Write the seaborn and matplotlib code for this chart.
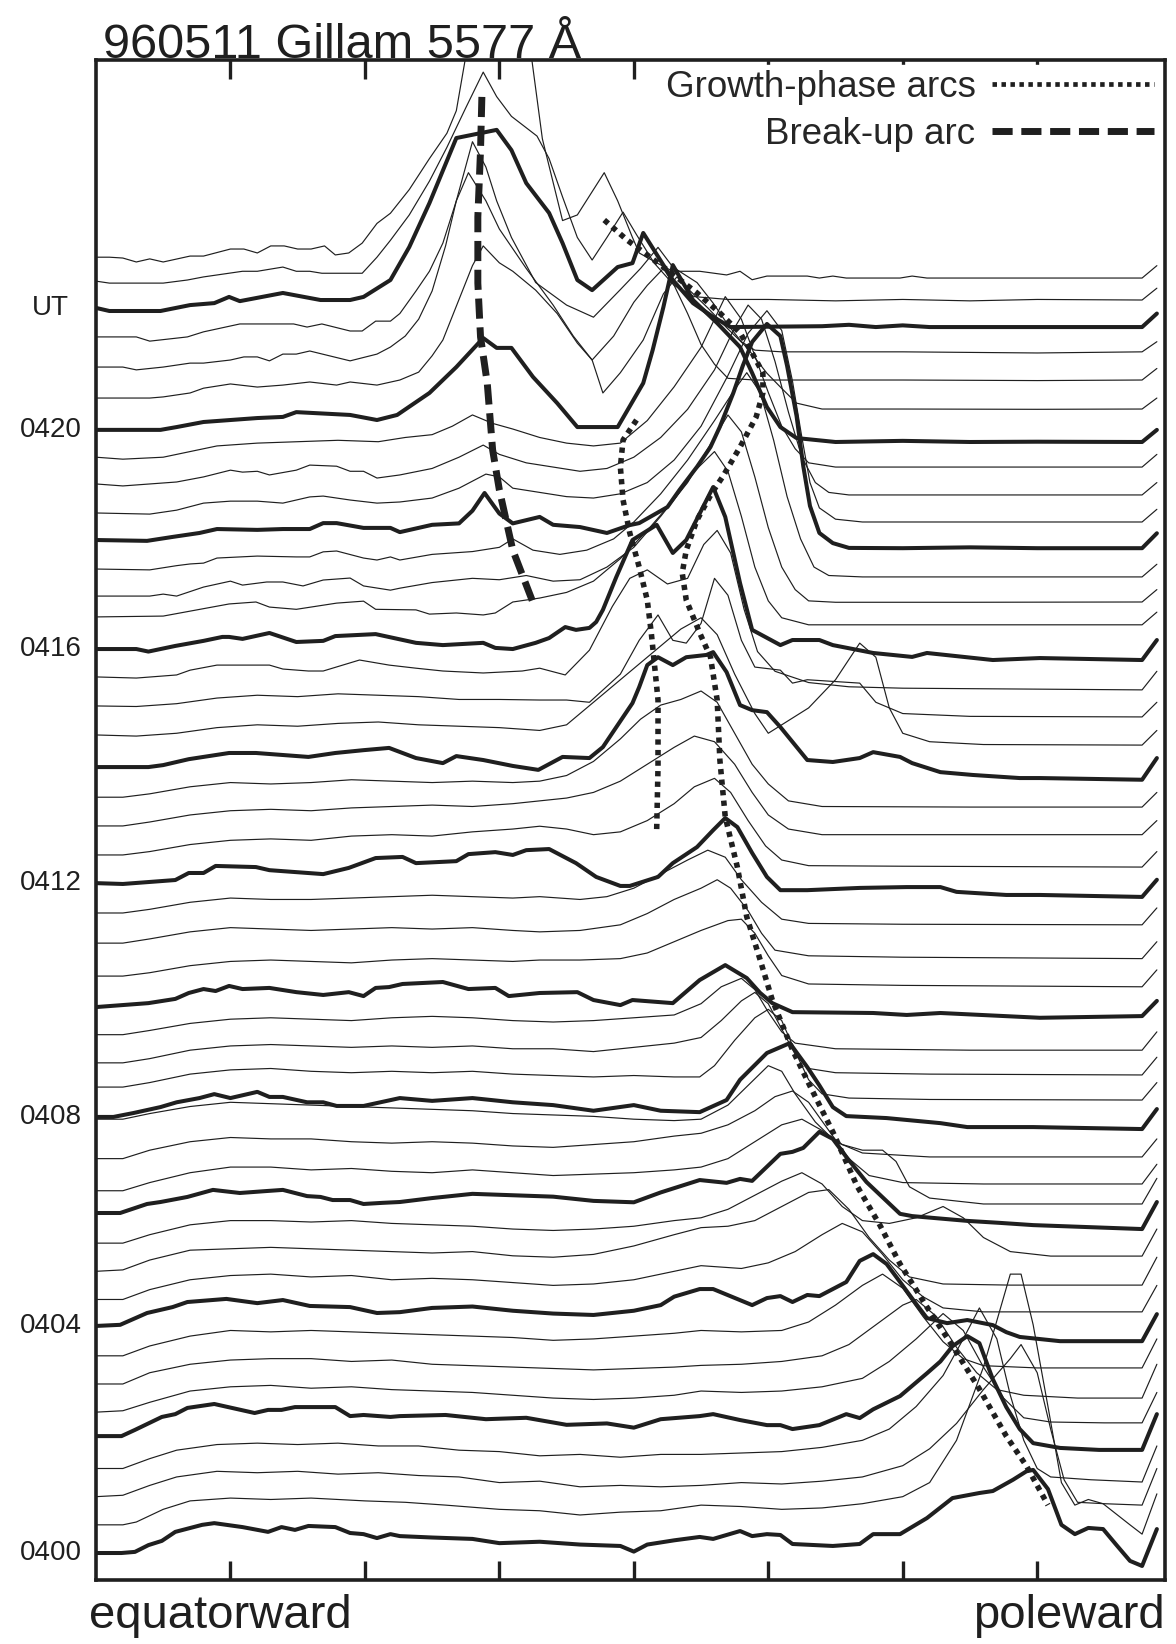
import numpy as np
import pandas as pd
import matplotlib
matplotlib.use("Agg")
import matplotlib.pyplot as plt
import matplotlib.transforms as mtransforms
import seaborn as sns
from matplotlib.lines import Line2D

# ---------------- data: each trace = list of (position, intensity) knots ----------------
# position: 0..8 (equatorward -> poleward), intensity in units of the trace offset
t00 = [(0,0),(0.19,0),(0.29,0.04),(0.39,0.28),(0.49,0.43),(0.59,0.75),(0.79,1.0),(0.88,1.06),(1.09,0.92),(1.28,0.75),(1.38,0.92),(1.48,0.82),(1.58,0.96),(1.78,0.92),(1.89,0.71),(1.99,0.67),(2.09,0.53),(2.19,0.67),(2.26,0.6),(2.5,0.55),(2.8,0.5),(3.0,0.35),(3.3,0.4),(3.6,0.3),(3.9,0.25),(4.0,0.05),(4.1,0.3),(4.3,0.45),(4.49,0.57),(4.59,0.5),(4.79,0.78),(4.88,0.6),(4.99,0.67),(5.09,0.64),(5.18,0.32),(5.48,0.25),(5.68,0.32),(5.78,0.67),(5.98,0.67),(6.18,1.24),(6.37,1.95),(6.57,2.13),(6.67,2.2),(6.82,2.6),(6.92,2.9),(6.97,2.95),(7.08,2.27),(7.18,1.0),(7.28,0.67),(7.38,0.89),(7.49,0.85),(7.59,0.28),(7.69,-0.28),(7.78,-0.46),(7.89,0.85)]
t01 = [(0,0),(0.2,0),(0.3,0.1),(0.5,0.55),(0.7,0.85),(1.0,0.95),(1.3,0.9),(1.6,0.95),(2.0,0.85),(2.3,0.8),(2.6,0.7),(3.0,0.55),(3.3,0.5),(3.6,0.35),(3.9,0.45),(4.2,0.5),(4.5,0.7),(4.8,0.65),(5.1,0.55),(5.4,0.6),(5.7,0.75),(6.0,1.0),(6.2,1.5),(6.4,3.0),(6.6,5.6),(6.8,8.9),(6.88,8.9),(6.97,7.1),(7.08,4.2),(7.18,1.5),(7.28,0.7),(7.38,0.9),(7.49,0.75),(7.69,0.0),(7.78,-0.33),(7.89,1.1)]
t02 = [(0,0),(0.2,0.05),(0.4,0.4),(0.6,0.7),(0.9,0.9),(1.2,0.85),(1.5,0.9),(1.8,0.8),(2.1,0.85),(2.4,0.75),(2.7,0.7),(3.0,0.5),(3.3,0.55),(3.6,0.35),(3.9,0.4),(4.2,0.35),(4.5,0.4),(4.8,0.5),(5.1,0.45),(5.4,0.55),(5.7,0.7),(6.0,1.1),(6.2,1.7),(6.4,2.6),(6.6,3.8),(6.8,4.9),(6.88,5.4),(7.0,4.4),(7.1,2.4),(7.2,0.6),(7.3,-0.2),(7.5,-0.25),(7.78,-0.3),(7.89,1.0)]
t03 = [(0,0),(0.2,0),(0.4,0.35),(0.6,0.65),(0.9,0.85),(1.2,0.9),(1.5,0.85),(1.8,0.9),(2.1,0.8),(2.4,0.8),(2.7,0.65),(3.0,0.6),(3.3,0.45),(3.6,0.5),(3.9,0.4),(4.2,0.5),(4.5,0.5),(4.8,0.55),(5.1,0.6),(5.4,0.75),(5.7,1.0),(5.9,1.4),(6.1,2.2),(6.3,3.3),(6.45,4.6),(6.57,5.7),(6.7,4.6),(6.8,2.6),(6.9,1.0),(7.0,0.0),(7.1,-0.3),(7.4,-0.4),(7.78,-0.48),(7.89,0.8)]
t04 = [(0,0.15),(0.19,0.15),(0.29,0.37),(0.49,0.83),(0.59,0.93),(0.68,1.15),(0.88,1.29),(1.18,0.97),(1.28,1.08),(1.38,1.08),(1.48,1.18),(1.78,1.18),(1.89,0.86),(1.99,0.9),(2.19,0.83),(2.26,0.86),(2.6,0.9),(2.9,0.75),(3.2,0.8),(3.5,0.55),(3.8,0.6),(4.0,0.45),(4.2,0.75),(4.49,0.86),(4.59,0.93),(4.79,0.72),(4.99,0.54),(5.09,0.54),(5.18,0.4),(5.38,0.54),(5.58,0.93),(5.68,0.79),(5.78,1.1),(5.98,1.57),(6.18,2.38),(6.28,2.8),(6.37,3.34),(6.48,3.7),(6.57,3.45),(6.67,2.17),(6.77,1.18),(6.87,0.4),(6.97,-0.1),(7.17,-0.27),(7.46,-0.34),(7.78,-0.34),(7.89,0.93)]
t05 = [(0,0),(0.2,0.05),(0.4,0.35),(0.7,0.75),(1.0,0.9),(1.3,0.95),(1.6,0.85),(1.9,0.9),(2.2,0.8),(2.5,0.75),(2.8,0.7),(3.1,0.6),(3.4,0.5),(3.7,0.45),(4.0,0.5),(4.3,0.6),(4.5,0.75),(4.8,0.7),(5.1,0.75),(5.4,0.9),(5.7,1.2),(5.9,1.8),(6.1,2.6),(6.3,3.5),(6.45,2.9),(6.6,1.6),(6.75,0.5),(6.9,-0.2),(7.1,-0.35),(7.5,-0.38),(7.78,-0.38),(7.89,0.7)]
t06 = [(0,0),(0.2,0),(0.4,0.4),(0.7,0.7),(1.0,0.85),(1.3,0.9),(1.6,0.9),(1.9,0.8),(2.2,0.85),(2.5,0.7),(2.8,0.65),(3.1,0.6),(3.4,0.55),(3.7,0.5),(4.0,0.55),(4.3,0.6),(4.5,0.66),(4.8,0.7),(5.1,0.8),(5.4,1.0),(5.6,1.4),(5.8,2.1),(6.0,2.8),(6.1,3.0),(6.25,2.4),(6.4,1.3),(6.55,0.4),(6.7,-0.2),(6.9,-0.4),(7.3,-0.5),(7.78,-0.5),(7.89,0.7)]
t07 = [(0,0),(0.2,0),(0.4,0.35),(0.7,0.7),(1.0,0.9),(1.3,0.85),(1.6,0.9),(1.9,0.85),(2.2,0.8),(2.5,0.75),(2.8,0.7),(3.1,0.65),(3.4,0.55),(3.7,0.6),(4.0,0.7),(4.3,0.8),(4.5,0.9),(4.8,0.85),(5.1,0.9),(5.3,1.2),(5.5,1.8),(5.7,2.5),(5.85,2.9),(6.0,2.4),(6.15,1.4),(6.3,0.5),(6.45,-0.1),(6.6,-0.35),(7.0,-0.43),(7.78,-0.43),(7.89,0.6)]
t08 = [(0,0.06),(0.18,0.1),(0.38,0.52),(0.57,0.73),(0.68,0.91),(0.97,1.02),(1.2,0.87),(1.39,0.98),(1.59,0.77),(1.89,0.73),(2.09,0.52),(2.26,0.55),(2.5,0.7),(2.8,0.75),(3.1,0.6),(3.4,0.5),(3.7,0.45),(4.0,0.6),(4.2,0.8),(4.3,1.1),(4.49,1.37),(4.59,1.37),(4.88,0.8),(4.99,1.05),(5.09,1.12),(5.18,0.91),(5.29,1.16),(5.38,1.12),(5.58,1.62),(5.68,2.37),(5.78,2.61),(5.88,2.26),(5.98,1.62),(6.1,0.84),(6.18,0.34),(6.33,0.16),(6.48,0.27),(6.67,0.09),(6.77,-0.16),(6.87,-0.33),(7.17,-0.48),(7.78,-0.48),(7.89,0.48)]
t09 = [(0,0),(0.2,0),(0.4,0.35),(0.7,0.7),(1.0,0.85),(1.3,0.9),(1.6,0.8),(1.9,0.85),(2.2,0.7),(2.5,0.75),(2.8,0.7),(3.1,0.6),(3.4,0.5),(3.7,0.55),(4.0,0.7),(4.3,1.0),(4.5,1.2),(4.8,1.1),(5.0,1.3),(5.2,1.7),(5.4,2.3),(5.55,2.7),(5.7,2.4),(5.85,1.6),(6.0,0.7),(6.15,0.1),(6.3,-0.3),(6.6,-0.44),(7.78,-0.44),(7.89,0.5)]
t10 = [(0,0),(0.2,0.05),(0.4,0.4),(0.7,0.75),(1.0,0.8),(1.3,0.85),(1.6,0.8),(1.9,0.75),(2.2,0.7),(2.5,0.65),(2.8,0.7),(3.1,0.55),(3.4,0.5),(3.7,0.6),(4.0,0.9),(4.3,1.3),(4.5,1.55),(4.7,1.6),(4.9,1.8),(5.1,2.3),(5.3,2.8),(5.45,2.9),(5.6,2.2),(5.75,1.2),(5.9,0.4),(6.05,-0.2),(6.3,-0.45),(6.8,-0.49),(7.78,-0.49),(7.89,0.5)]
t11 = [(0,0),(0.2,0),(0.4,0.3),(0.7,0.65),(1.0,0.8),(1.3,0.8),(1.6,0.75),(1.9,0.8),(2.2,0.7),(2.5,0.65),(2.8,0.6),(3.1,0.5),(3.4,0.45),(3.7,0.5),(4.0,0.6),(4.3,0.8),(4.5,0.9),(4.7,1.2),(4.9,1.7),(5.1,2.2),(5.25,2.5),(5.4,2.1),(5.55,1.3),(5.7,0.8),(5.9,0.7),(6.1,0.9),(6.3,1.3),(6.45,0.9),(6.6,0.2),(6.8,-0.3),(7.1,-0.46),(7.78,-0.46),(7.89,0.5)]
t12 = [(0,0.07),(0.18,0.07),(0.38,0.39),(0.48,0.46),(0.68,0.64),(0.87,0.89),(1.07,0.78),(1.27,0.85),(1.39,0.89),(1.57,0.67),(1.67,0.64),(1.76,0.53),(1.89,0.53),(1.99,0.39),(2.13,0.43),(2.26,0.46),(2.5,0.6),(2.8,0.75),(3.1,0.7),(3.4,0.65),(3.7,0.5),(4.0,0.45),(4.2,0.8),(4.49,1.24),(4.69,1.14),(4.79,1.28),(4.88,1.21),(5.09,2.17),(5.18,2.24),(5.26,2.38),(5.38,2.95),(5.48,2.7),(5.58,2.06),(5.73,1.17),(5.98,0.04),(6.07,-0.04),(6.48,-0.21),(6.72,-0.28),(6.97,-0.36),(7.78,-0.5),(7.89,0.46)]
t13 = [(0,-0.14),(0.2,-0.14),(0.4,0.15),(0.7,0.5),(1.0,0.7),(1.3,0.7),(1.6,0.6),(1.9,0.65),(2.2,0.55),(2.5,0.5),(2.8,0.6),(3.1,0.5),(3.4,0.4),(3.7,0.45),(4.0,0.5),(4.3,0.6),(4.5,0.7),(4.7,1.0),(4.9,1.6),(5.1,2.2),(5.25,2.4),(5.4,2.0),(5.55,1.5),(5.7,1.3),(5.85,1.3),(5.95,0.9),(6.05,0.0),(6.2,-0.4),(6.6,-0.61),(7.78,-0.61),(7.89,0.3)]
t14 = [(0,0),(0.2,0),(0.4,0.3),(0.7,0.6),(1.0,0.75),(1.3,0.7),(1.6,0.7),(1.9,0.6),(2.2,0.55),(2.5,0.6),(2.8,0.55),(3.1,0.45),(3.4,0.4),(3.7,0.5),(4.0,0.6),(4.3,0.8),(4.5,0.9),(4.7,1.2),(4.9,1.7),(5.05,2.2),(5.18,2.4),(5.3,2.0),(5.45,1.0),(5.6,0.0),(5.75,-0.6),(6.0,-0.85),(6.6,-0.9),(7.78,-0.9),(7.89,-0.2)]
t15 = [(0,0.4),(0.2,0.4),(0.4,0.6),(0.7,0.85),(1.0,1.0),(1.3,0.95),(1.6,0.9),(1.9,0.85),(2.2,0.8),(2.5,0.75),(2.8,0.7),(3.1,0.6),(3.4,0.55),(3.7,0.5),(4.0,0.4),(4.3,0.35),(4.5,0.4),(4.7,0.9),(4.85,1.6),(5.0,2.3),(5.1,2.1),(5.2,1.3),(5.35,0.3),(5.5,-0.4),(5.7,-0.8),(6.2,-0.94),(7.78,-0.94),(7.89,-0.3)]
t16 = [(0,-0.52),(0.13,-0.52),(0.28,-0.38),(0.48,-0.17),(0.6,0.0),(0.77,0.15),(0.88,0.29),(1.0,0.15),(1.2,0.37),(1.29,0.19),(1.39,0.19),(1.57,0.0),(1.69,0.0),(1.79,-0.13),(1.99,-0.13),(2.26,0.15),(2.5,0.05),(2.8,0.15),(3.1,0.0),(3.4,-0.1),(3.7,-0.3),(4.0,-0.1),(4.2,-0.3),(4.49,-0.35),(4.69,0.08),(4.79,0.8),(4.99,1.75),(5.16,2.1),(5.29,1.25),(5.38,0.6),(5.48,-0.17),(5.58,-0.49),(5.88,-0.56),(6.28,-0.74),(6.48,-0.88),(6.97,-0.88),(7.78,-0.95),(7.89,-0.24)]
t17 = [(0,-0.46),(0.2,-0.46),(0.4,-0.3),(0.7,0.0),(1.0,0.15),(1.3,0.2),(1.6,0.1),(1.9,0.05),(2.2,0.1),(2.5,0.05),(2.8,0.1),(3.1,0.0),(3.4,-0.05),(3.7,-0.1),(4.0,-0.05),(4.3,-0.1),(4.49,-0.1),(4.6,0.3),(4.75,1.2),(4.9,2.0),(5.0,2.3),(5.1,1.9),(5.2,0.8),(5.3,-0.2),(5.4,-0.7),(5.6,-0.85),(6.2,-0.9),(7.78,-0.92),(7.89,-0.3)]
t18 = [(0,-0.6),(0.2,-0.6),(0.4,-0.45),(0.7,-0.15),(1.0,0.0),(1.3,0.05),(1.6,0.0),(1.9,-0.05),(2.2,0.0),(2.5,-0.05),(2.8,0.0),(3.1,-0.1),(3.4,-0.1),(3.7,-0.2),(4.0,-0.05),(4.3,0.1),(4.5,0.3),(4.65,0.9),(4.8,1.6),(4.9,1.9),(5.0,1.5),(5.1,0.6),(5.2,-0.3),(5.3,-0.8),(5.5,-0.95),(6.2,-1.0),(7.78,-1.03),(7.89,-0.4)]
t19 = [(0,-0.6),(0.2,-0.6),(0.4,-0.45),(0.7,-0.2),(1.0,-0.05),(1.3,0.0),(1.6,-0.05),(1.9,-0.1),(2.2,0.0),(2.5,0.05),(2.8,0.0),(3.1,-0.1),(3.4,-0.15),(3.7,-0.1),(4.0,0.0),(4.3,0.1),(4.5,0.5),(4.65,1.1),(4.8,1.4),(4.9,1.0),(5.0,0.2),(5.1,-0.5),(5.2,-0.9),(5.5,-1.1),(6.5,-1.15),(7.78,-1.15),(7.89,-0.5)]
t20 = [(0,-0.62),(0.39,-0.48),(0.59,-0.33),(0.69,-0.12),(0.8,0.02),(0.89,-0.05),(0.99,0.13),(1.09,0.02),(1.29,0.06),(1.49,-0.09),(1.69,-0.19),(1.88,-0.09),(1.99,-0.23),(2.08,0.06),(2.18,0.09),(2.28,0.2),(2.58,0.27),(2.77,0.02),(2.97,0.06),(3.07,-0.23),(3.3,-0.12),(3.58,-0.09),(3.7,-0.37),(3.9,-0.55),(3.99,-0.37),(4.29,-0.48),(4.49,0.34),(4.68,0.87),(4.84,0.41),(4.94,-0.12),(5.03,-0.48),(5.18,-0.8),(5.78,-0.83),(6.03,-0.9),(6.28,-0.83),(7.02,-1.0),(7.78,-0.94),(7.89,-0.4)]
t21 = [(0,-0.52),(0.2,-0.52),(0.4,-0.4),(0.7,-0.15),(1.0,0.0),(1.3,0.05),(1.6,0.0),(1.9,-0.05),(2.2,0.05),(2.5,0.1),(2.8,0.05),(3.1,0.0),(3.3,0.05),(3.6,0.05),(3.9,0.1),(4.1,0.3),(4.3,0.7),(4.5,1.1),(4.7,1.45),(4.8,1.5),(4.9,1.0),(5.0,0.2),(5.1,-0.5),(5.3,-0.8),(6.0,-0.85),(7.78,-0.9),(7.89,-0.3)]
t22 = [(0,-0.35),(0.2,-0.35),(0.4,-0.2),(0.7,0.05),(1.0,0.2),(1.3,0.15),(1.6,0.1),(1.9,0.15),(2.2,0.2),(2.5,0.15),(2.8,0.2),(3.1,0.1),(3.3,0.05),(3.6,0.1),(3.9,0.3),(4.1,0.7),(4.3,1.2),(4.5,1.6),(4.62,1.9),(4.72,1.6),(4.85,0.8),(4.95,0.0),(5.05,-0.6),(5.3,-0.8),(6.0,-0.85),(7.78,-0.9),(7.89,-0.3)]
t23 = [(0,-0.28),(0.2,-0.28),(0.4,-0.15),(0.7,0.1),(1.0,0.25),(1.3,0.2),(1.6,0.2),(1.9,0.25),(2.2,0.3),(2.5,0.35),(2.8,0.3),(3.1,0.25),(3.3,0.3),(3.6,0.2),(3.8,0.3),(4.0,0.6),(4.2,1.1),(4.4,1.6),(4.55,1.95),(4.68,1.7),(4.8,0.9),(4.95,0.1),(5.1,-0.5),(5.3,-0.65),(6.0,-0.68),(7.78,-0.7),(7.89,-0.1)]
t24 = [(0,-0.22),(0.2,-0.25),(0.59,-0.11),(0.69,0.14),(0.8,0.14),(0.89,0.39),(1.19,0.35),(1.29,0.24),(1.69,0.1),(1.88,0.32),(2.08,0.67),(2.28,0.71),(2.38,0.49),(2.68,0.56),(2.77,0.81),(2.97,0.88),(3.1,0.78),(3.2,0.95),(3.37,0.99),(3.57,0.49),(3.72,0.0),(3.9,-0.32),(3.97,-0.32),(4.18,0.0),(4.29,0.49),(4.47,1.06),(4.59,1.66),(4.68,2.09),(4.77,1.77),(4.88,0.85),(4.99,0.0),(5.09,-0.47),(5.29,-0.47),(5.68,-0.39),(6.03,-0.36),(6.28,-0.36),(6.4,-0.53),(6.77,-0.64),(7.02,-0.64),(7.78,-0.71),(7.89,-0.1)]
t25 = [(0,-0.22),(0.2,-0.22),(0.4,-0.1),(0.7,0.15),(1.0,0.3),(1.3,0.35),(1.6,0.3),(1.9,0.45),(2.2,0.5),(2.5,0.45),(2.8,0.6),(3.1,0.7),(3.3,0.8),(3.5,0.7),(3.7,0.5),(3.9,0.6),(4.1,1.0),(4.3,1.6),(4.45,2.2),(4.6,2.5),(4.72,2.0),(4.85,1.0),(4.98,0.1),(5.1,-0.4),(5.3,-0.6),(6.0,-0.62),(7.78,-0.65),(7.89,-0.1)]
t26 = [(0,-0.19),(0.2,-0.19),(0.4,-0.05),(0.7,0.2),(1.0,0.35),(1.3,0.4),(1.6,0.35),(1.9,0.45),(2.2,0.5),(2.5,0.55),(2.8,0.5),(3.1,0.6),(3.3,0.7),(3.5,0.8),(3.7,1.0),(3.9,1.4),(4.1,2.0),(4.3,2.6),(4.45,3.0),(4.6,2.8),(4.75,2.0),(4.88,1.0),(5.0,0.2),(5.15,-0.3),(5.4,-0.5),(6.5,-0.5),(7.78,-0.5),(7.89,0.0)]
t27 = [(0,-0.17),(0.2,-0.17),(0.4,-0.05),(0.7,0.2),(1.0,0.35),(1.3,0.3),(1.6,0.35),(1.9,0.45),(2.2,0.4),(2.5,0.35),(2.8,0.4),(3.1,0.35),(3.3,0.4),(3.5,0.6),(3.7,1.1),(3.9,1.9),(4.05,2.6),(4.2,3.1),(4.35,3.3),(4.5,3.6),(4.62,3.2),(4.75,2.1),(4.88,1.0),(5.0,0.3),(5.15,-0.3),(5.4,-0.5),(6.5,-0.52),(7.78,-0.52),(7.89,0.0)]
t28 = [(0,-0.1),(0.39,-0.1),(0.5,-0.03),(0.69,0.18),(0.99,0.4),(1.19,0.4),(1.58,0.26),(1.78,0.4),(1.99,0.5),(2.18,0.58),(2.38,0.22),(2.58,0.04),(2.68,0.29),(2.88,0.15),(3.1,-0.06),(3.29,-0.2),(3.47,0.26),(3.67,0.22),(3.77,0.61),(3.87,1.32),(3.99,2.17),(4.04,2.74),(4.1,3.52),(4.18,3.8),(4.29,3.52),(4.39,3.8),(4.54,3.88),(4.59,3.98),(4.69,3.27),(4.79,2.1),(4.88,1.92),(4.99,1.85),(5.09,1.32),(5.29,0.15),(5.48,0.08),(5.68,0.22),(5.78,0.43),(5.98,0.26),(6.07,0.04),(6.28,-0.28),(6.52,-0.38),(6.87,-0.49),(7.02,-0.49),(7.78,-0.55),(7.89,0.22)]
t29 = [(0,0.04),(0.3,0.0),(0.6,0.1),(0.9,0.3),(1.2,0.4),(1.5,0.35),(1.8,0.45),(2.1,0.5),(2.4,0.4),(2.7,0.35),(3.0,0.3),(3.3,0.2),(3.5,0.4),(3.7,1.2),(3.9,2.0),(4.05,2.6),(4.2,3.2),(4.35,3.8),(4.5,4.2),(4.62,3.6),(4.75,2.2),(4.9,0.8),(5.0,0.1),(5.1,0.4),(5.3,1.0),(5.5,2.0),(5.68,3.3),(5.8,2.8),(5.9,1.0),(6.0,0.1),(6.2,-0.2),(6.6,-0.3),(7.78,-0.32),(7.89,0.2)]
t30 = [(0,0.07),(0.3,0.05),(0.6,0.15),(0.9,0.35),(1.2,0.45),(1.5,0.4),(1.8,0.5),(2.1,0.45),(2.4,0.4),(2.7,0.3),(3.0,0.3),(3.3,0.28),(3.5,0.28),(3.67,0.2),(3.9,1.2),(4.04,2.4),(4.18,3.3),(4.29,2.4),(4.39,2.3),(4.5,3.0),(4.6,4.6),(4.7,4.0),(4.8,2.4),(4.9,1.45),(5.09,1.34),(5.18,0.88),(5.29,1.0),(5.68,0.88),(5.8,0.2),(6.0,-0.2),(6.5,-0.3),(7.78,-0.32),(7.89,0.2)]
t31 = [(0,0.1),(0.3,0.06),(0.6,0.17),(0.7,0.34),(0.9,0.52),(1.29,0.52),(1.39,0.38),(1.58,0.31),(1.69,0.31),(1.96,0.7),(2.18,0.52),(2.38,0.41),(2.58,0.31),(2.88,0.24),(3.17,0.31),(3.3,0.41),(3.49,0.17),(3.67,1.05),(3.84,2.6),(3.97,3.6),(4.1,3.9),(4.25,3.4),(4.4,3.6),(4.52,4.8),(4.62,5.3),(4.72,4.5),(4.82,2.5),(4.92,1.0),(5.05,0.3),(5.3,-0.1),(5.6,-0.25),(6.0,-0.3),(7.78,-0.36),(7.89,0.3)]
t32 = [(0,0.09),(0.3,0.09),(0.39,0.0),(0.59,0.2),(0.8,0.38),(0.94,0.52),(0.99,0.52),(1.09,0.45),(1.29,0.66),(1.49,0.34),(1.69,0.38),(1.78,0.55),(2.08,0.62),(2.38,0.31),(2.58,0.23),(2.88,0.31),(2.97,0.13),(3.1,0.09),(3.27,0.31),(3.37,0.48),(3.49,0.87),(3.57,0.77),(3.67,0.84),(3.72,1.05),(3.77,1.48),(3.87,2.65),(3.99,3.96),(4.17,4.5),(4.29,3.5),(4.39,3.96),(4.59,5.84),(4.68,4.78),(4.79,2.43),(4.88,0.77),(5.09,0.23),(5.18,0.41),(5.38,0.41),(5.48,0.23),(5.78,-0.05),(6.07,-0.19),(6.18,-0.05),(6.67,-0.3),(7.02,-0.23),(7.78,-0.3),(7.89,0.41)]
t33 = [(0,0.23),(0.5,0.26),(0.99,0.69),(1.19,0.76),(1.29,0.58),(1.49,0.5),(1.79,0.72),(1.99,0.79),(2.08,0.5),(2.38,0.48),(2.48,0.33),(2.68,0.37),(2.88,0.3),(2.97,0.37),(3.1,0.76),(3.3,0.9),(3.5,1.1),(3.7,1.5),(3.9,2.3),(4.1,3.3),(4.3,4.4),(4.45,5.4),(4.6,6.1),(4.7,5.4),(4.8,3.8),(4.9,2.0),(5.0,0.8),(5.1,0.2),(5.3,-0.05),(6.5,-0.05),(7.78,-0.05),(7.89,0.4)]
t34 = [(0,-0.03),(0.4,-0.03),(0.5,0.04),(0.6,-0.03),(0.8,0.29),(1.0,0.5),(1.09,0.36),(1.27,0.47),(1.39,0.47),(1.54,0.33),(1.69,0.54),(1.89,0.61),(1.99,0.33),(2.19,0.18),(2.26,0.25),(2.5,0.45),(2.8,0.6),(3.0,0.55),(3.2,0.7),(3.4,0.5),(3.6,0.55),(3.8,1.0),(4.0,1.7),(4.2,2.8),(4.4,4.0),(4.55,5.2),(4.7,6.4),(4.8,5.8),(4.9,4.2),(5.0,2.4),(5.1,1.0),(5.2,0.2),(5.3,-0.2),(5.5,-0.25),(6.5,-0.25),(7.78,-0.24),(7.89,0.2)]
t35 = [(0,-0.07),(0.4,-0.1),(0.6,0.05),(0.7,0.11),(0.8,0.14),(0.9,0.32),(1.2,0.39),(1.49,0.36),(1.59,0.36),(1.69,0.54),(1.79,0.57),(1.99,0.32),(2.09,0.25),(2.19,0.36),(2.26,0.25),(2.5,0.45),(2.8,0.55),(3.0,0.7),(3.1,1.0),(3.25,0.6),(3.45,0.45),(3.65,0.6),(3.85,1.0),(4.0,1.6),(4.2,2.6),(4.4,3.8),(4.6,5.2),(4.75,6.3),(4.84,6.9),(4.94,6.2),(5.04,4.5),(5.14,2.5),(5.24,1.0),(5.34,0.0),(5.45,-0.3),(5.7,-0.35),(6.5,-0.35),(7.78,-0.35),(7.89,0.1)]
t36 = [(0,-0.04),(0.38,-0.07),(0.57,0.07),(0.77,0.21),(0.9,0.35),(1.2,0.32),(1.39,0.35),(1.59,0.35),(1.69,0.56),(1.79,0.56),(1.99,0.39),(2.19,0.39),(2.26,0.24),(2.5,0.5),(2.7,0.55),(2.8,1.0),(2.89,1.63),(3.0,0.9),(3.1,0.55),(3.3,0.78),(3.4,0.5),(3.6,0.42),(3.8,0.21),(3.97,0.49),(4.04,0.56),(4.25,1.13),(4.34,1.74),(4.47,2.56),(4.57,3.26),(4.64,3.98),(4.74,5.18),(4.81,6.14),(4.88,6.99),(4.99,7.63),(5.09,7.2),(5.14,6.14),(5.21,4.37),(5.26,2.59),(5.31,1.17),(5.38,0.21),(5.48,-0.15),(5.6,-0.32),(6.0,-0.33),(6.5,-0.3),(7.0,-0.33),(7.78,-0.33),(7.89,0.2)]
t37 = [(0,-0.08),(0.4,-0.12),(0.6,0.02),(0.8,0.27),(1.0,0.34),(1.2,0.34),(1.39,0.27),(1.59,0.49),(1.69,0.52),(1.89,0.38),(2.09,0.27),(2.26,0.31),(2.5,0.45),(2.7,0.8),(2.9,1.3),(3.0,1.2),(3.1,0.8),(3.3,0.65),(3.5,0.5),(3.7,0.45),(3.9,0.6),(4.1,1.0),(4.3,1.8),(4.5,3.0),(4.7,4.8),(4.85,6.3),(4.99,7.1),(5.1,6.4),(5.18,4.6),(5.25,2.6),(5.31,1.0),(5.38,0.1),(5.5,-0.3),(5.7,-0.4),(6.5,-0.4),(7.78,-0.4),(7.89,0.05)]
t38 = [(0,-0.05),(0.2,-0.12),(0.4,-0.05),(0.6,0.02),(0.8,0.2),(1.0,0.44),(1.09,0.37),(1.2,0.4),(1.29,0.27),(1.49,0.44),(1.59,0.62),(1.79,0.58),(1.89,0.4),(1.99,0.4),(2.09,0.16),(2.26,0.27),(2.5,0.5),(2.7,0.9),(2.88,1.33),(3.0,1.0),(3.2,0.7),(3.4,0.55),(3.6,0.4),(3.8,0.5),(4.0,0.9),(4.2,1.6),(4.4,2.6),(4.6,4.0),(4.75,5.5),(4.85,6.3),(4.95,5.8),(5.05,4.3),(5.15,2.5),(5.25,0.9),(5.35,0.0),(5.45,-0.35),(5.6,-0.44),(6.5,-0.44),(7.78,-0.44),(7.89,0.0)]
t39 = [(0,-0.1),(0.2,-0.17),(0.5,-0.1),(0.7,0.1),(0.9,0.3),(1.2,0.4),(1.5,0.45),(1.8,0.5),(2.1,0.45),(2.3,0.6),(2.5,0.7),(2.65,1.0),(2.8,1.4),(2.95,1.1),(3.1,0.9),(3.3,0.6),(3.5,0.4),(3.7,0.3),(3.9,0.4),(4.1,1.2),(4.3,2.4),(4.5,3.8),(4.68,5.6),(4.8,4.8),(4.9,3.5),(5.0,2.2),(5.1,1.0),(5.2,0.2),(5.3,-0.3),(5.5,-0.45),(6.5,-0.45),(7.78,-0.45),(7.89,0.0)]
t40 = [(0,-0.13),(0.48,-0.13),(0.6,-0.03),(0.8,0.15),(1.0,0.22),(1.2,0.29),(1.39,0.33),(1.49,0.5),(1.89,0.4),(2.09,0.22),(2.24,0.4),(2.48,1.18),(2.68,2.1),(2.88,3.13),(2.98,2.78),(3.09,2.78),(3.25,1.75),(3.43,0.82),(3.58,-0.03),(3.88,-0.03),(4.07,1.53),(4.14,2.7),(4.22,4.23),(4.29,5.72),(4.44,4.48),(4.62,3.66),(4.79,2.81),(4.88,1.89),(4.99,0.68),(5.09,-0.03),(5.21,-0.42),(5.5,-0.56),(6.0,-0.52),(6.5,-0.56),(7.0,-0.55),(7.78,-0.56),(7.89,-0.13)]
t41 = [(0,0),(0.4,0),(0.5,0.04),(0.7,0.18),(0.8,0.35),(1.0,0.5),(1.2,0.39),(1.39,0.46),(1.59,0.57),(1.79,0.46),(1.89,0.57),(2.09,0.46),(2.26,0.64),(2.4,0.92),(2.5,1.5),(2.58,2.06),(2.7,3.5),(2.8,4.7),(2.88,5.4),(3.0,4.8),(3.1,4.5),(3.27,3.83),(3.43,3.0),(3.58,1.95),(3.69,1.35),(3.77,0.18),(3.9,0.9),(4.07,2.06),(4.22,3.7),(4.32,4.3),(4.42,3.8),(4.55,3.2),(4.69,2.5),(4.84,1.8),(4.99,0.88),(5.09,0.39),(5.21,-0.18),(5.4,-0.39),(6.0,-0.39),(7.0,-0.4),(7.78,-0.39),(7.89,0.0)]
t42 = [(0,0.1),(0.2,0.1),(0.3,0),(0.5,0.1),(0.7,0.24),(0.8,0.24),(1.0,0.35),(1.1,0.46),(1.2,0.46),(1.29,0.32),(1.39,0.56),(1.49,0.56),(1.59,0.67),(1.89,0.32),(2.09,0.56),(2.19,0.81),(2.3,1.2),(2.4,1.8),(2.5,2.8),(2.6,4.4),(2.68,6.0),(2.77,7.0),(2.9,6.0),(3.0,5.0),(3.2,3.6),(3.4,2.3),(3.55,1.2),(3.69,0.35),(3.85,1.2),(4.0,2.4),(4.1,3.0),(4.22,3.6),(4.3,3.0),(4.4,2.0),(4.5,0.9),(4.6,0.2),(4.7,-0.3),(4.9,-0.36),(6.0,-0.36),(7.0,-0.38),(7.78,-0.36),(7.89,0.05)]
t43 = [(0,0.17),(0.3,0.17),(0.4,0.02),(0.68,0.17),(0.8,0.35),(1.07,0.63),(1.47,0.63),(1.57,0.52),(1.68,0.63),(1.89,0.38),(1.98,0.38),(2.08,0.73),(2.19,0.73),(2.26,1.0),(2.38,1.8),(2.48,2.5),(2.58,3.5),(2.68,5.0),(2.8,7.1),(2.9,6.2),(2.98,5.0),(3.09,3.7),(3.27,2.1),(3.5,1.3),(3.7,0.87),(3.9,1.85),(4.05,2.6),(4.18,3.35),(4.29,2.65),(4.47,2.1),(4.59,1.37),(4.7,0.6),(4.8,0.0),(4.9,-0.3),(5.1,-0.36),(6.0,-0.36),(7.0,-0.4),(7.78,-0.36),(7.89,0.0)]
t44 = [(0,0.2),(0.1,0.09),(0.48,0.09),(0.7,0.3),(0.88,0.37),(0.99,0.59),(1.07,0.44),(1.39,0.73),(1.67,0.48),(1.89,0.48),(1.99,0.59),(2.19,1.19),(2.33,2.36),(2.48,3.92),(2.68,6.23),(2.98,6.52),(3.09,5.8),(3.2,4.63),(3.37,3.57),(3.47,2.5),(3.58,1.19),(3.69,0.83),(3.88,1.65),(3.99,1.79),(4.07,2.86),(4.29,1.19),(4.44,0.37),(4.59,-0.12),(4.72,-0.48),(5.4,-0.45),(5.6,-0.4),(5.8,-0.48),(6.0,-0.42),(6.2,-0.48),(7.78,-0.48),(7.89,0.0)]
t45 = [(0,0.15),(0.1,0.08),(0.5,0.08),(0.68,0.19),(0.8,0.3),(1.09,0.5),(1.2,0.5),(1.39,0.65),(1.49,0.5),(1.59,0.5),(1.68,0.43),(1.98,0.43),(2.09,1.0),(2.19,1.6),(2.33,2.5),(2.48,3.7),(2.61,4.9),(2.75,6.3),(2.88,7.57),(2.98,6.7),(3.09,6.0),(3.28,5.3),(3.37,4.5),(3.47,3.14),(3.58,1.7),(3.69,0.9),(3.8,1.7),(3.92,2.6),(4.02,1.8),(4.15,0.8),(4.3,0.0),(4.45,-0.4),(4.7,-0.5),(5.0,-0.5),(5.5,-0.55),(6.0,-0.5),(6.5,-0.55),(7.0,-0.5),(7.78,-0.52),(7.89,-0.1)]
t46 = [(0,0),(0.1,0),(0.2,-0.03),(0.3,-0.17),(0.4,-0.06),(0.5,-0.17),(0.7,0.04),(0.8,0.04),(1.0,0.29),(1.1,0.29),(1.2,0.15),(1.3,0.4),(1.4,0.4),(1.5,0.29),(1.6,0.29),(1.7,0.4),(1.78,0.08),(1.88,0.15),(1.98,0.5),(2.09,1.2),(2.19,1.56),(2.33,2.4),(2.48,3.5),(2.61,4.4),(2.68,5.2),(2.8,8.5),(2.9,9.6),(3.0,9.8),(3.1,9.3),(3.2,8.5),(3.32,4.2),(3.47,1.3),(3.58,1.5),(3.78,3.0),(3.88,2.0),(3.99,0.7),(4.04,0.15),(4.17,-0.2),(4.29,-0.5),(4.49,-0.5),(4.69,-0.63),(4.79,-0.5),(4.88,-0.8),(4.99,-0.67),(5.29,-0.67),(5.38,-0.74),(5.48,-0.67),(5.58,-0.74),(5.98,-0.74),(6.07,-0.67),(6.18,-0.74),(6.87,-0.74),(7.78,-0.74),(7.89,-0.3)]

bold_rows = [0, 4, 8, 12, 16, 20, 24, 28, 32, 36, 40, 44]
time_labels = ["0400", "0404", "0408", "0412", "0416", "0420", "UT"]
label_rows = [0, 8, 16, 24, 32, 40, 44]

# annotated arcs (position, row-level)
breakup_x = [2.87, 2.86, 2.84, 2.84, 2.86, 2.91, 2.95, 3.0, 3.1, 3.26]
breakup_y = [51.69, 49.8, 47.43, 45.08, 43.17, 41.53, 39.16, 37.74, 35.6, 33.62]
growth1_x = [3.78, 3.95, 4.22, 4.47, 4.64, 4.79, 4.88, 4.96, 4.96, 4.91, 4.79, 4.66, 4.58, 4.47, 4.39, 4.36, 4.39, 4.49, 4.57, 4.62, 4.64, 4.68, 4.77, 4.84, 4.94, 5.03, 5.18, 5.31, 5.48, 5.66, 5.83, 5.98, 6.18, 6.37, 6.57, 6.77, 6.92, 7.08]
growth1_y = [47.32, 46.61, 45.65, 44.73, 44.02, 43.31, 42.6, 41.89, 41.18, 40.33, 39.26, 38.2, 37.63, 36.67, 35.6, 34.79, 33.83, 32.66, 31.81, 30.28, 28.15, 26.13, 24.35, 22.58, 21.05, 19.63, 17.86, 16.58, 14.95, 13.03, 11.64, 10.26, 8.73, 7.35, 5.82, 4.15, 3.09, 1.7]
growth2_x = [4.02, 3.92, 3.9, 3.92, 3.97, 4.04, 4.1, 4.13, 4.18, 4.18, 4.17]
growth2_y = [40.22, 39.51, 38.55, 37.38, 36.21, 35.0, 33.83, 32.66, 30.28, 27.9, 25.67]

traces = [t00, t01, t02, t03, t04, t05, t06, t07, t08, t09, t10, t11, t12, t13, t14, t15,
          t16, t17, t18, t19, t20, t21, t22, t23, t24, t25, t26, t27, t28, t29, t30, t31,
          t32, t33, t34, t35, t36, t37, t38, t39, t40, t41, t42, t43, t44, t45, t46]

rows = []
for i, tr in enumerate(traces):
    for k, (px, val) in enumerate(tr):
        rows.append({"trace": i, "order": k, "x": px, "y": i + val,
                     "bold": i in bold_rows})
df = pd.DataFrame(rows)

INK = "#1f1f1f"

# ---------------- figure ----------------
sns.set_theme(style="white")
plt.rcParams["font.family"] = ["Liberation Sans", "DejaVu Sans"]

fig = plt.figure(figsize=(11.76, 16.44), dpi=100)
ax = fig.add_axes([0.0816, 0.0389, 0.9090, 0.9246])

sns.lineplot(data=df[~df.bold], x="x", y="y", units="trace", estimator=None,
             sort=False, color=INK, linewidth=0.85, ax=ax, legend=False)
sns.lineplot(data=df[df.bold], x="x", y="y", units="trace", estimator=None,
             sort=False, color=INK, linewidth=2.9, ax=ax, legend=False)

dot_style = (0, (0.95, 0.95))
dash_style = (0, (2.9, 1.25))
ax.plot(growth1_x, growth1_y, color=INK, lw=4.0, linestyle=dot_style,
        dash_capstyle="butt")
ax.plot(growth2_x, growth2_y, color=INK, lw=4.0, linestyle=dot_style,
        dash_capstyle="butt")
ax.plot(breakup_x, breakup_y, color=INK, lw=5.0, linestyle=dash_style,
        dash_capstyle="butt")

ax.set_xlim(0, 7.95)
ax.set_ylim(-0.96, 53.0)
ax.set_xlabel("")
ax.set_ylabel("")

# x ticks: inward on bottom and top, no labels
ax.set_xticks([1, 2, 3, 4, 5, 6, 7])
ax.set_xticklabels([])
ax.tick_params(axis="x", which="both", direction="in", length=14, width=2.4,
               top=True, bottom=True, color=INK)

# y labels (centred) at the starting level of selected traces
ax.set_yticks([])
trans = mtransforms.blended_transform_factory(ax.transAxes, ax.transData)
for r, lab in zip(label_rows, time_labels):
    ax.text(-0.0425, r + traces[r][0][1], lab, transform=trans, ha="center",
            va="center", fontsize=20, color=INK)

for sp in ax.spines.values():
    sp.set_linewidth(2.6)
    sp.set_color(INK)
    sp.set_visible(True)

fig.text(0.0875, 0.9646, "960511 Gillam 5577 Å", fontsize=35, color=INK,
         ha="left", va="baseline")
fig.text(0.0757, 0.0097, "equatorward", fontsize=34, color=INK,
         ha="left", va="baseline")
fig.text(0.9906, 0.0097, "poleward", fontsize=34, color=INK,
         ha="right", va="baseline")

handles = [Line2D([], [], color=INK, lw=3.4, linestyle=dot_style),
           Line2D([], [], color=INK, lw=5.0, linestyle=dash_style)]
leg = ax.legend(handles, ["Growth-phase arcs", "Break-up arc"], loc="upper right",
                bbox_to_anchor=(0.995, 0.997), frameon=True, fontsize=26.5,
                markerfirst=False, handlelength=4.4, handletextpad=0.45,
                borderaxespad=0.0, borderpad=0.15, labelspacing=0.32, fancybox=False)
leg.get_frame().set_facecolor("white")
leg.get_frame().set_edgecolor("white")
leg.get_frame().set_alpha(1.0)
leg._legend_box.align = "right"

fig.savefig("out.png", dpi=100)
